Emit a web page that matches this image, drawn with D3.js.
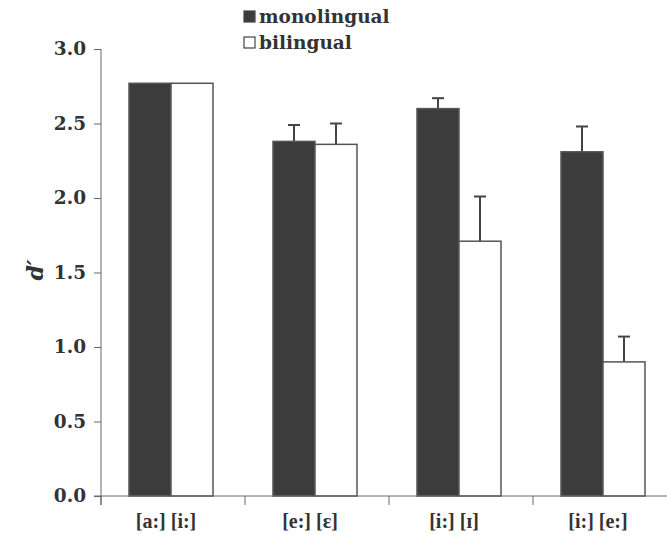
<!DOCTYPE html>
<html>
<head>
  <meta charset="utf-8">
  <script src="https://cdn.jsdelivr.net/npm/d3@7"></script>
  <style>
    body { margin: 0; background: #fff; }
    svg text { font-family: "DejaVu Serif", serif; font-weight: bold; fill: #333; }
    svg text.ipa { font-family: "Liberation Serif", serif; }
  </style>
</head>
<body>
<script>
  // data
  const categories = ["[a:] [i:]", "[e:] [ɛ]", "[i:] [ɪ]", "[i:] [e:]"];
  const groups = ["monolingual", "bilingual"];
  const monoValues = [2.77, 2.38, 2.60, 2.31];
  const monoErrors = [0, 0.11, 0.07, 0.17];
  const biValues = [2.77, 2.36, 1.71, 0.90];
  const biErrors = [0, 0.14, 0.30, 0.17];
  const yTicks = [0, 0.5, 1.0, 1.5, 2.0, 2.5, 3.0];

  const w = 667, h = 535;
  const colors = { monolingual: "#3c3c3c", bilingual: "#ffffff" };

  const svg = d3.select("body").append("svg")
    .attr("width", w)
    .attr("height", h);

  // scales
  const x0 = d3.scaleBand().domain(categories).range([101, 677]);
  const x1 = d3.scaleBand().domain(groups).range([28, 112]);
  const y = d3.scaleLinear().domain([0, 3]).range([496, 49]);

  const rows = categories.map(function (c, i) {
    return [
      { cat: c, g: "monolingual", v: monoValues[i], e: monoErrors[i] },
      { cat: c, g: "bilingual", v: biValues[i], e: biErrors[i] }
    ];
  }).flat();

  // error bars (drawn first, bars cover the lower part)
  const err = svg.append("g").attr("stroke", "#444").attr("stroke-width", 2);
  rows.filter(function (d) { return d.e > 0; }).forEach(function (d) {
    const cx = x0(d.cat) + x1(d.g) + x1.bandwidth() / 2;
    err.append("line").attr("x1", cx).attr("x2", cx)
      .attr("y1", y(d.v)).attr("y2", y(d.v + d.e));
    err.append("line").attr("x1", cx - 6).attr("x2", cx + 6)
      .attr("y1", y(d.v + d.e)).attr("y2", y(d.v + d.e));
  });

  // bars
  svg.append("g").selectAll("rect")
    .data(rows)
    .enter()
    .append("rect")
    .attr("x", function (d) { return x0(d.cat) + x1(d.g); })
    .attr("y", function (d) { return y(d.v); })
    .attr("width", x1.bandwidth())
    .attr("height", function (d) { return y(0) - y(d.v); })
    .attr("fill", function (d) { return colors[d.g]; })
    .attr("stroke", "#555")
    .attr("stroke-width", 1.5);

  // y axis
  const yAxis = svg.append("g")
    .attr("transform", "translate(101,0)")
    .call(d3.axisLeft(y).tickValues(yTicks).tickFormat(d3.format(".1f")).tickSize(7).tickPadding(8));
  yAxis.attr("font-family", null).attr("font-size", null);
  yAxis.select(".domain").attr("d", "M0,49V505").attr("stroke", "#666");
  yAxis.selectAll(".tick line").attr("stroke", "#666");
  yAxis.selectAll(".tick text").attr("font-size", 18.5).attr("fill", "#333");

  // x axis
  const xAxis = svg.append("g")
    .attr("transform", "translate(0,496)");
  xAxis.append("line").attr("x1", 94).attr("x2", 667).attr("y1", 0).attr("y2", 0)
    .attr("stroke", "#666");
  xAxis.selectAll("line.tk")
    .data(categories)
    .enter()
    .append("line")
    .attr("class", "tk")
    .attr("x1", function (d) { return x0(d); })
    .attr("x2", function (d) { return x0(d); })
    .attr("y1", 0).attr("y2", 9)
    .attr("stroke", "#666");
  xAxis.selectAll("text")
    .data(categories)
    .enter()
    .append("text")
    .attr("class", "ipa")
    .attr("x", function (d) { return x0(d) + x0.bandwidth() / 2 - 7; })
    .attr("y", 32)
    .attr("text-anchor", "middle")
    .attr("font-size", 20)
    .text(function (d) { return d; });

  // y label
  svg.append("text")
    .attr("transform", "translate(43,270) rotate(-90)")
    .attr("text-anchor", "middle")
    .attr("font-size", 22)
    .attr("font-style", "italic")
    .text("d′");

  // legend
  const legend = svg.append("g");
  groups.forEach(function (g, i) {
    legend.append("rect")
      .attr("x", 244).attr("y", 11 + i * 26)
      .attr("width", 11).attr("height", 11)
      .attr("fill", colors[g])
      .attr("stroke", "#444").attr("stroke-width", 1.2);
    legend.append("text")
      .attr("x", 259).attr("y", 23 + i * 26)
      .attr("font-size", 18.5)
      .text(g);
  });
</script>
</body>
</html>
